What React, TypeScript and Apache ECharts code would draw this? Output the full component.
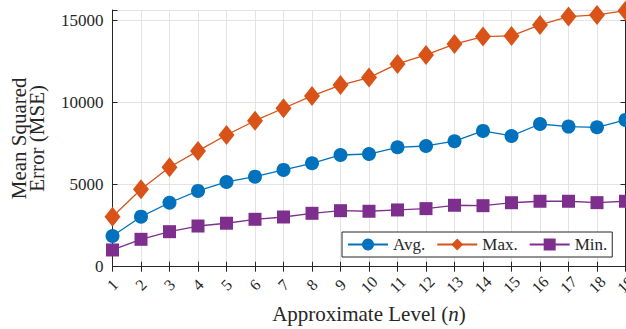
import React, { useEffect, useRef } from "react";
import * as echarts from "echarts";

const categories = ["1","2","3","4","5","6","7","8","9","10","11","12","13","14","15","16","17","18","19"];
const avgValues = [1870, 3050, 3900, 4620, 5165, 5490, 5900, 6305, 6810, 6870, 7280, 7360, 7650, 8280, 7970, 8700, 8540, 8500, 8950];
const maxValues = [3050, 4720, 6060, 7060, 8030, 8900, 9660, 10410, 11070, 11530, 12365, 12910, 13570, 14030, 14070, 14740, 15250, 15350, 15610];
const minValues = [1020, 1670, 2135, 2480, 2650, 2890, 3030, 3255, 3415, 3380, 3460, 3540, 3745, 3720, 3900, 3990, 3990, 3905, 3990];
const yTicks = [0, 5000, 10000, 15000];
const yMax = 15650;

const FONT = "'Liberation Serif', 'Times New Roman', serif";
const DARK = "#262626";
const GRID = "#e3e3e3";

export default function App() {
  const ref = useRef<HTMLDivElement>(null);
  useEffect(() => {
    if (!ref.current) return;
    const chart = echarts.init(ref.current, undefined, { renderer: "svg" });
    const axisLine = { show: true, lineStyle: { color: DARK, width: 1 } };
    const tick = { show: true, inside: true, length: 5, lineStyle: { color: DARK, width: 1 } };
    chart.setOption({
      animation: false,
      backgroundColor: "#ffffff",
      textStyle: { fontFamily: FONT },
      grid: { left: 112.5, right: 0.5, top: 10, bottom: 62.3, containLabel: false, outerBoundsMode: "none" },
      legend: {
        left: 342,
        top: 232,
        padding: [4, 5],
        itemWidth: 40,
        itemHeight: 15,
        itemGap: 11,
        backgroundColor: "#ffffff",
        borderColor: DARK,
        borderWidth: 1,
        borderRadius: 0,
        textStyle: { fontFamily: FONT, fontSize: 17, color: DARK, padding: [0, 0, 0, 0] },
        data: ["Avg.", "Max.", "Min."],
      },
      xAxis: [
        {
          type: "category",
          data: categories,
          boundaryGap: false,
          position: "bottom",
          axisLine,
          axisTick: tick,
          splitLine: { show: true, lineStyle: { color: GRID, width: 1 } },
          axisLabel: {
            rotate: 45,
            align: "center",
            verticalAlign: "middle",
            margin: 18,
            fontFamily: FONT,
            fontSize: 16,
            color: DARK,
            interval: 0,
            hideOverlap: false,
          },
          name: "Approximate Level ({i|n})",
          nameLocation: "middle",
          nameGap: 28,
          nameTextStyle: {
            fontFamily: FONT,
            fontSize: 21,
            color: DARK,
            rich: { i: { fontFamily: FONT, fontSize: 21, fontStyle: "italic", color: DARK } },
          },
        },
        {
          type: "category",
          data: categories,
          boundaryGap: false,
          position: "top",
          axisLine,
          axisTick: tick,
          axisLabel: { show: false },
          splitLine: { show: false },
        },
      ],
      yAxis: [
        {
          type: "value",
          min: 0,
          max: yMax,
          interval: 5000,
          position: "left",
          axisLine,
          axisTick: tick,
          splitLine: { show: true, lineStyle: { color: GRID, width: 1 } },
          axisLabel: {
            margin: 9,
            fontFamily: FONT,
            fontSize: 17,
            color: DARK,
            formatter: (v: number) => (yTicks.includes(v) ? String(v) : ""),
          },
          name: "Mean Squared\nError (MSE)",
          nameLocation: "middle",
          nameRotate: 90,
          nameGap: 67,
          nameTextStyle: { fontFamily: FONT, fontSize: 21, lineHeight: 18, color: DARK },
        },
        {
          type: "value",
          min: 0,
          max: yMax,
          interval: 5000,
          position: "right",
          axisLine,
          axisTick: tick,
          axisLabel: { show: false },
          splitLine: { show: false },
        },
      ],
      series: [
        {
          name: "Avg.",
          type: "line",
          data: avgValues,
          symbol: "circle",
          symbolSize: 14,
          showAllSymbol: true,
          lineStyle: { color: "#0072BD", width: 1.3 },
          itemStyle: { color: "#0072BD" },
        },
        {
          name: "Max.",
          type: "line",
          data: maxValues,
          symbol: "diamond",
          symbolSize: [16, 20],
          showAllSymbol: true,
          lineStyle: { color: "#D95319", width: 1.3 },
          itemStyle: { color: "#D95319" },
        },
        {
          name: "Min.",
          type: "line",
          data: minValues,
          symbol: "rect",
          symbolSize: 13,
          showAllSymbol: true,
          lineStyle: { color: "#7E2F8E", width: 1.3 },
          itemStyle: { color: "#7E2F8E" },
        },
      ],
    });
    return () => chart.dispose();
  }, []);
  return (
    <div
      ref={ref}
      style={{ position: "fixed", left: 0, top: 0, width: 626, height: 329, background: "#fff" }}
    />
  );
}
